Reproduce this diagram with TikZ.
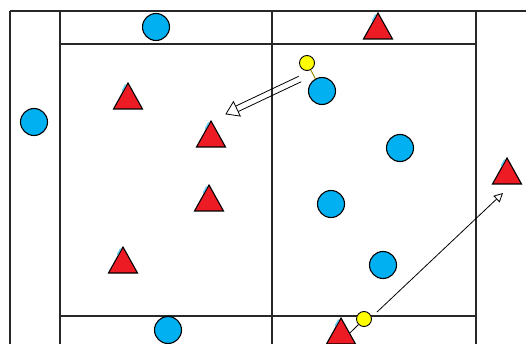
\documentclass[tikz,border=0pt]{standalone}
\usetikzlibrary{calc,arrows.meta}
\definecolor{ballblue}{RGB}{0,176,240}
\definecolor{conered}{RGB}{237,28,36}
\definecolor{ballyellow}{RGB}{255,255,0}
\definecolor{tickcyan}{RGB}{90,200,245}
\definecolor{linkolive}{RGB}{150,140,0}
\definecolor{frame}{RGB}{40,40,40}
\tikzset{
  fieldline/.style={draw=frame,line width=1.3pt},
  ball/.style={circle,draw=black,line width=1.1pt,fill=ballblue,minimum size=27pt,inner sep=0pt},
  yball/.style={circle,draw=black,line width=0.9pt,fill=ballyellow,minimum size=15pt,inner sep=0pt},
  trishape/.style={draw=black,line width=1.1pt,fill=conered,line join=miter},
  tritick/.style={draw=tickcyan,line width=1.3pt,line cap=round},
  redtri/.pic={
    \draw[trishape] (0,0) -- (14.5,26) -- (-14.5,26) -- cycle;
    \draw[tritick] (-2.5,2) -- (-5.5,7.5);
    \coordinate (-apex) at (0,0);
    \coordinate (-re) at (8.4,15.5);
  },
  passline/.style={draw=black,line width=0.8pt},
  runarrow/.style={draw=black,line width=0.8pt,-{Triangle[open,length=9pt,width=9pt]}},
  balllink/.style={draw=linkolive,line width=1pt},
  coneLink/.style={draw=black,line width=0.8pt}
}
\begin{document}
\begin{tikzpicture}[x=1pt,y=-1pt]
\useasboundingbox[fill=white] (0,0) rectangle (526,344);
% field lines
\coordinate (tl) at (10,11);
\coordinate (tr) at (526,11);
\draw[fieldline] (tl) -- (tr);
\draw[fieldline] (10,11) -- (10,344);
\draw[fieldline] (60,11) -- (60,344);
\draw[fieldline] (272,11) -- (272,344);
\draw[fieldline] (476,11) -- (476,344);
\draw[fieldline] (60,44) -- (476,44);
\draw[fieldline] (60,316) -- (476,316);
% blue players
\node[ball] (b1) at (156,27) {};
\node[ball] (b2) at (34,122) {};
\node[ball] (b3) at (322,91) {};
\node[ball] (b4) at (400,148) {};
\node[ball] (b5) at (331,204) {};
\node[ball] (b6) at (383,265) {};
\node[ball] (b7) at (168,330) {};
% red cones
\pic (t1) at (128,83) {redtri};
\pic (t2) at (211,121) {redtri};
\pic (t3) at (378,13) {redtri};
\pic (t4) at (507,158) {redtri};
\pic (t5) at (209,185) {redtri};
\pic (t6) at (123,247) {redtri};
\pic (t7) at (341,318) {redtri};
% yellow balls
\node[yball] (y1) at (307,63) {};
\node[yball] (y2) at (364,319) {};
\draw[balllink] (y1) -- (b3);
\draw[coneLink] (y2) -- (t7-re);
% double pass arrow
\coordinate (a1s) at (300,79);
\coordinate (a1t) at (226,114);
\coordinate (a1h) at ($(a1t)!12pt!(a1s)$);
\draw[passline] ($(a1s)!3pt!90:(a1t)$) -- ($(a1h)!3pt!-90:(a1s)$);
\draw[passline] ($(a1s)!3pt!-90:(a1t)$) -- ($(a1h)!3pt!90:(a1s)$);
\draw[passline,fill=white,line join=miter] ($(a1h)!8pt!90:(a1t)$) -- (a1t) -- ($(a1h)!8pt!-90:(a1t)$) -- cycle;
% run arrow
\coordinate (a2s) at (377,312);
\coordinate (a2t) at (503,193);
\draw[runarrow] (a2s) -- (a2t);
\end{tikzpicture}
\end{document}
